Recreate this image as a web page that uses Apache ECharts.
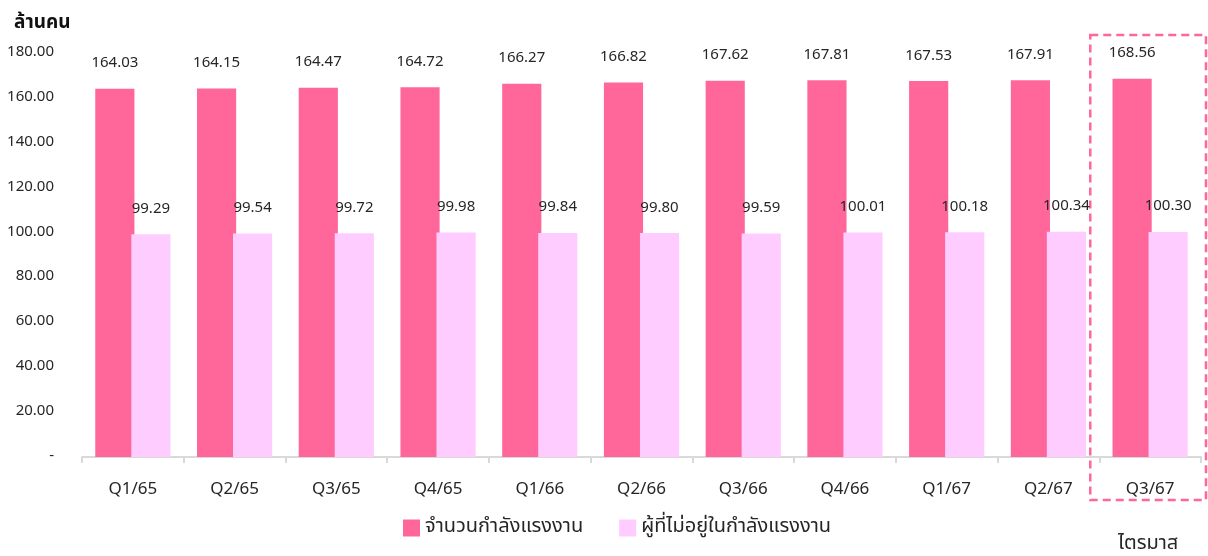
<!DOCTYPE html>
<html>
<head>
<meta charset="utf-8">
<script src="https://cdn.jsdelivr.net/npm/echarts@6/dist/echarts.min.js"></script>
<style>
  html, body { margin: 0; padding: 0; background: #fff; }
  #chart { width: 1208px; height: 556px; }
</style>
</head>
<body>
<div id="chart"></div>
<script>
// Quarterly labour figures (million persons)
const quarters = ['Q1/65', 'Q2/65', 'Q3/65', 'Q4/65', 'Q1/66', 'Q2/66', 'Q3/66', 'Q4/66', 'Q1/67', 'Q2/67', 'Q3/67'];
const labourForce = [164.03, 164.15, 164.47, 164.72, 166.27, 166.82, 167.62, 167.81, 167.53, 167.91, 168.56];
const outsideLabourForce = [99.29, 99.54, 99.72, 99.98, 99.84, 99.80, 99.59, 100.01, 100.18, 100.34, 100.30];
const yTicks = [0, 20, 40, 60, 80, 100, 120, 140, 160, 180];
const seriesNames = ['จำนวนกำลังแรงงาน', 'ผู้ที่ไม่อยู่ในกำลังแรงงาน'];
const highlightQuarter = 'Q3/67';

const FONT = '"Noto Sans Thai", "Leelawadee UI", Tahoma, "Noto Sans", "DejaVu Sans", sans-serif';
const TEXT = '#262626';

const chart = echarts.init(document.getElementById('chart'), null, { renderer: 'canvas' });

const labelStyle = {
  show: true,
  position: 'top',
  distance: 17,
  color: TEXT,
  fontFamily: FONT,
  fontSize: 15,
  formatter: p => p.value.toFixed(2)
};

chart.setOption({
  animation: false,
  textStyle: { fontFamily: FONT },
  title: {
    text: 'ล้านคน',
    left: 9,
    top: 10,
    textStyle: { fontFamily: FONT, fontSize: 19, fontWeight: 'bold', color: '#111' }
  },
  grid: { left: 82, right: 7, top: 53, bottom: 99 },
  legend: {
    bottom: 13,
    left: 398,
    itemWidth: 17,
    itemHeight: 17,
    itemGap: 36,
    icon: 'rect',
    textStyle: { fontFamily: FONT, fontSize: 20, color: TEXT },
    data: seriesNames
  },
  xAxis: {
    type: 'category',
    data: quarters,
    axisLine: { lineStyle: { color: '#d9d9d9', width: 2 } },
    axisTick: { show: true, length: 6, lineStyle: { color: '#d9d9d9', width: 2 } },
    axisLabel: { color: TEXT, fontFamily: FONT, fontSize: 17, margin: 25 }
  },
  yAxis: {
    type: 'value',
    min: yTicks[0],
    max: yTicks[yTicks.length - 1],
    interval: yTicks[1] - yTicks[0],
    axisLine: { show: false },
    axisTick: { show: false },
    splitLine: { show: false },
    axisLabel: {
      color: TEXT,
      fontFamily: FONT,
      fontSize: 15,
      margin: 28,
      padding: [4, 0, 0, 0],
      formatter: v => (v === 0 ? '-' : v.toFixed(2))
    }
  },
  series: [
    {
      name: seriesNames[0],
      type: 'bar',
      data: labourForce,
      barWidth: '38.5%',
      barGap: '-8%',
      itemStyle: { color: '#FF6699' },
      label: labelStyle
    },
    {
      name: seriesNames[1],
      type: 'bar',
      data: outsideLabourForce,
      barWidth: '38.5%',
      itemStyle: { color: '#FFCCFF' },
      label: labelStyle
    }
  ]
});

// Dashed frame around the latest quarter, with its caption underneath
function drawHighlight() {
  const idx = quarters.indexOf(highlightQuarter);
  const cx = chart.convertToPixel({ xAxisIndex: 0 }, idx);
  const cx0 = chart.convertToPixel({ xAxisIndex: 0 }, 0);
  const cx1 = chart.convertToPixel({ xAxisIndex: 0 }, 1);
  const band = cx1 - cx0;
  const yTop = chart.convertToPixel({ yAxisIndex: 0 }, yTicks[yTicks.length - 1]);
  const yBase = chart.convertToPixel({ yAxisIndex: 0 }, 0);
  const x0 = cx - band / 2 - 9;
  const x1 = Math.min(cx + band / 2 + 5, chart.getWidth() - 2);
  chart.setOption({
    graphic: [
      {
        type: 'rect',
        shape: { x: x0, y: yTop - 18, width: x1 - x0, height: yBase + 43 - (yTop - 18) },
        style: { fill: 'none', stroke: '#FF6699', lineWidth: 2.5, lineDash: [8, 5] },
        silent: true
      },
      {
        type: 'text',
        x: cx - 2,
        y: yBase + 88,
        style: {
          text: 'ไตรมาส',
          fill: TEXT,
          font: '20px ' + FONT,
          align: 'center',
          verticalAlign: 'middle'
        },
        silent: true
      }
    ]
  });
}
drawHighlight();
</script>
</body>
</html>
